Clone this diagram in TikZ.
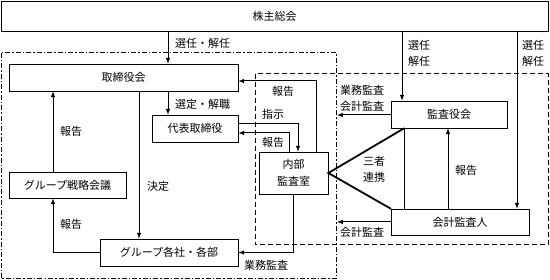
\documentclass[tikz,border=0pt]{standalone}
\usepackage{fontspec}
\setmainfont{Noto Sans CJK JP}
\usetikzlibrary{arrows,calc}

\begin{document}
\begin{tikzpicture}[x=1pt,y=-1pt,>=latex,
  box/.style={draw,line width=0.7pt,inner sep=0pt,align=center,font=\fontsize{11}{17}\selectfont},
  lbl/.style={inner sep=0pt,anchor=west,align=left,font=\fontsize{11}{16}\selectfont},
  arr/.style={->,line width=1pt},
  link/.style={line width=1.8pt,line cap=round}]
\useasboundingbox (0,0) rectangle (550,280);

% frames
\draw[line width=1pt,dash pattern=on 5pt off 2pt on 1.5pt off 2pt] (1,53) rectangle (336,279);
\draw[line width=1pt,dash pattern=on 5pt off 3pt] (255,74) rectangle (548,245);

\node[box,minimum width=547pt,minimum height=30pt] (soukai) at (274.5,16) {株主総会};
\node[box,minimum width=229pt,minimum height=27pt] (torikai) at (123.5,77.5) {取締役会};
\node[box,minimum width=86pt,minimum height=27pt] (daihyo) at (195,128.5) {代表取締役};
\node[box,minimum width=117pt,minimum height=26pt] (senryaku) at (67.5,185) {グループ戦略会議};
\node[box,minimum width=138pt,minimum height=27pt] (kakusha) at (169,252.5) {グループ各社・各部};
\node[box,minimum width=69pt,minimum height=42pt] (naibu) at (293.5,173) {内部\\監査室};
\node[box,minimum width=116pt,minimum height=27pt] (kansa) at (449,114.5) {監査役会};
\node[box,minimum width=138pt,minimum height=26pt] (kaikei) at (460,222) {会計監査人};

\coordinate (out1) at (337,115);
\coordinate (out2) at (337,222);

% left side
\draw[arr] (168,0 |- soukai.south) -- (168,0 |- torikai.north);
\draw[arr] (168,0 |- torikai.south) -- (168,0 |- daihyo.north);
\draw[arr] (139,0 |- torikai.south) -- (139,0 |- kakusha.north);
\draw[arr] (53,0 |- senryaku.north) -- (53,0 |- torikai.south);
\draw[arr] (kakusha.west) -| (53,0 |- senryaku.south);

\node[lbl] (l1) at (175,43) {選任・解任};
\node[lbl] (l2) at (175,104) {選定・解職};
\node[lbl] (l3) at (147,186) {決定};
\node[lbl] (l4) at (60,131) {報告};
\node[lbl] (l5) at (60,224) {報告};

% internal audit
\draw[arr] (316,0 |- naibu.north) |- (torikai.east |- 0,81);
\draw[arr] (daihyo.east |- 0,124) -| (298,0 |- naibu.north);
\draw[arr] (289,0 |- naibu.north) |- (daihyo.east |- 0,133);
\draw[arr] (naibu.south) |- (kakusha.east);

\node[lbl] (l6) at (272,91) {報告};
\node[lbl] (l7) at (262,114) {指示};
\node[lbl] (l8) at (262,142) {報告};
\node[lbl] (l9) at (244,265) {業務監査};

% right side
\draw[arr] (402,0 |- soukai.south) -- (402,0 |- kansa.north);
\draw[arr] (517,0 |- soukai.south) -- (517,0 |- kaikei.north);
\draw[arr] (kansa.west |- out1) -- (out1);
\draw[arr] (kaikei.west |- out2) -- (out2);
\draw[line width=1pt] (404,0 |- kansa.south) -- (404,0 |- kaikei.north);
\draw[arr] (448,0 |- kaikei.north) -- (448,0 |- kansa.south);

\node[lbl] (l10) at (408,53) {選任\\解任};
\node[lbl] (l11) at (522,53) {選任\\解任};
\node[lbl] (l12) at (340,98) {業務監査\\会計監査};
\node[lbl] (l13) at (340,232) {会計監査};
\node[lbl] (l14) at (455,170) {報告};

\draw[link] (404,0 |- kansa.south) -- (naibu.east) -- (kaikei.north west);
\node[lbl,anchor=center,align=center] (l15) at (374,169) {三者\\連携};

\end{tikzpicture}
\end{document}
